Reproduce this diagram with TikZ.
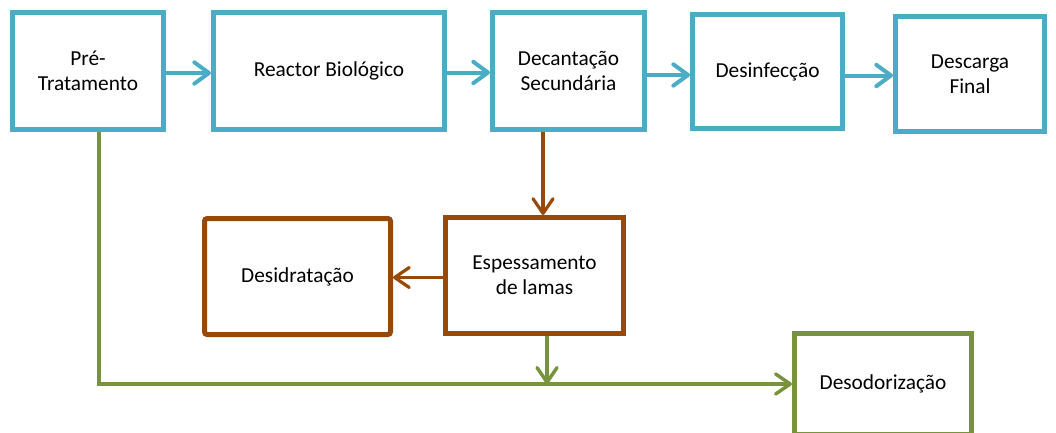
\documentclass[tikz,border=0pt]{standalone}
\usepackage{fontspec}
\setmainfont{Carlito}
\usetikzlibrary{arrows.meta}
\definecolor{procblue}{HTML}{4BACC6}
\definecolor{sludgebrown}{HTML}{984807}
\definecolor{odourgreen}{HTML}{77933C}
\tikzset{
  stage/.style={draw, rectangle, fill=white, line width=3.75pt, align=center, inner sep=0pt, font=\fontsize{16}{18.75}\selectfont},
  water/.style={stage, draw=procblue},
  sludge/.style={stage, draw=sludgebrown},
  odour/.style={stage, draw=odourgreen},
  waterflow/.style={draw=procblue, line width=3pt, -{Straight Barb[length=11pt,width=16pt,round]}},
  sludgeflow/.style={draw=sludgebrown, line width=2.4pt, -{Straight Barb[length=11pt,width=15pt,round]}},
  odourflow/.style={draw=odourgreen, line width=2.6pt, -{Straight Barb[length=11pt,width=15pt,round]}}
}
\begin{document}
\begin{tikzpicture}[x=0.75pt, y=-0.75pt]
\useasboundingbox (0,0) rectangle (1056,432);
					\node[water, minimum width=151*0.75pt, minimum height=117*0.75pt] (PT)at(88, 71) {Pré-\\Tratamento};
					\node[water, minimum width=231*0.75pt, minimum height=117*0.75pt] (RB)at(329, 70.5) {Reactor Biológico};
					\node[water, minimum width=152*0.75pt, minimum height=117*0.75pt] (DS)at(568.5, 71) {Decantação\\Secundária};
					\node[water, minimum width=150*0.75pt, minimum height=114*0.75pt] (DI)at(767.5, 71.5) {Desinfecção};
					\node[water, minimum width=149*0.75pt, minimum height=115*0.75pt] (DF)at(970, 74) {Descarga\\Final};
					\node[sludge, minimum width=178*0.75pt, minimum height=116*0.75pt] (EL)at(534.5, 275.5) {Espessamento\\de lamas};
					\node[sludge, rounded corners=2pt, minimum width=186*0.75pt, minimum height=116*0.75pt] (DH)at(297.5, 276.5) {Desidratação};
					\node[odour, minimum width=177*0.75pt, minimum height=101*0.75pt] (DO)at(883, 384) {Desodorização};
					\draw[waterflow] ([yshift=-1.5pt]PT.east) -- ([yshift=-1.5pt]PT.east -| RB.west);
					\draw[waterflow] ([yshift=-1.5pt]RB.east) -- ([yshift=-1.5pt]RB.east -| DS.west);
					\draw[waterflow] ([yshift=-3pt]DS.east) -- ([yshift=-3pt]DS.east -| DI.west);
					\draw[waterflow] ([yshift=-3pt]DI.east) -- ([yshift=-3pt]DI.east -| DF.west);
					\draw[sludgeflow] ([xshift=-19.1pt]DS.south) -- ([xshift=-19.1pt]DS.south |- EL.north);
					\draw[sludgeflow] ([yshift=-1.5pt]EL.west) -- ([yshift=-1.5pt]EL.west -| DH.east);
					\draw[odourflow] ([xshift=8.25pt]PT.south) |- (DO.west);
					\draw[odourflow] ([xshift=9.4pt]EL.south) -- ([xshift=9.4pt]EL.south |- DO.west);
				\end{tikzpicture}
\end{document}
